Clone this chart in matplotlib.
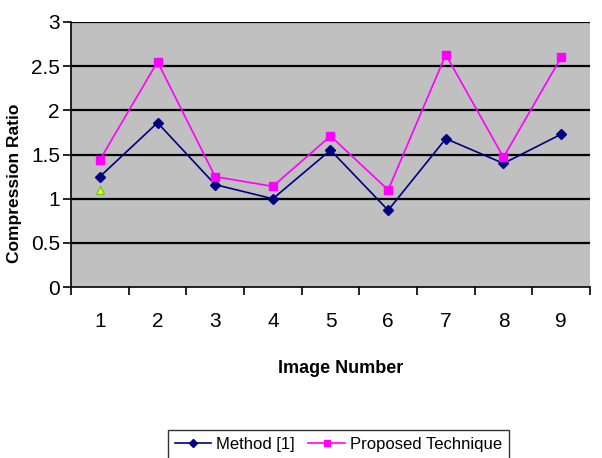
import matplotlib
matplotlib.use("Agg")
import matplotlib.pyplot as plt
import numpy as np

plt.rcParams["font.family"] = ["Liberation Sans", "DejaVu Sans"]

images = [1, 2, 3, 4, 5, 6, 7, 8, 9]
method_1 = [1.25, 1.86, 1.16, 1.00, 1.55, 0.87, 1.68, 1.40, 1.73]
proposed = [1.44, 2.55, 1.25, 1.14, 1.71, 1.10, 2.63, 1.47, 2.60]
stray_x = [1]
stray_y = [1.10]
y_ticks = [0, 0.5, 1, 1.5, 2, 2.5, 3]
y_labels = ["0", "0.5", "1", "1.5", "2", "2.5", "3"]

fig = plt.figure(figsize=(6.02, 4.58), dpi=100)
ax = fig.add_axes([0.118, 0.373, 0.862, 0.579])
ax.set_facecolor("#c0c0c0")

pos = np.arange(len(images))
ax.plot(pos, method_1, color="#000080", lw=1.2, marker="D", ms=5,
        mec="#000080", mfc="#000080", zorder=3, label="Method [1]")
ax.plot(pos, proposed, color="#ff00ff", lw=1.2, marker="s", ms=5.5,
        mec="#ff00ff", mfc="#ff00ff", zorder=3, label="Proposed Technique")
ax.plot(stray_x[0] - 1, stray_y[0], marker="^", ms=6, mfc="#ffff00",
        mec="#66cc33", ls="none", zorder=2)

ax.set_xlim(-0.5, len(images) - 0.5)
ax.set_ylim(0, 3)
ax.set_yticks(y_ticks)
ax.set_yticklabels(y_labels, fontsize=15)
for y in y_ticks[1:]:
    ax.axhline(y, color="black", lw=1.6, zorder=1)

# category boundaries carry the ticks, names sit between them
ax.set_xticks(np.arange(len(images) + 1) - 0.5)
ax.set_xticklabels([])
ax.set_xticks(pos, minor=True)
ax.set_xticklabels([str(i) for i in images], minor=True, fontsize=15)
ax.tick_params(axis="x", which="minor", length=0, pad=18)
ax.tick_params(axis="x", which="major", length=6, width=1.2, direction="out")
ax.tick_params(axis="y", length=6, width=1.2, direction="out", pad=2)

for s in ("top", "right"):
    ax.spines[s].set_visible(False)
for s in ("left", "bottom"):
    ax.spines[s].set_linewidth(1.2)

ax.set_ylabel("Compression Ratio", fontsize=12.5, fontweight="bold")
ax.yaxis.set_label_coords(-0.094, 0.39)
fig.text(0.565, 0.196, "Image Number", fontsize=13, fontweight="bold",
         ha="center", va="center")

leg = fig.legend(loc="lower center", bbox_to_anchor=(0.562, -0.02), ncol=2,
                 frameon=True, fancybox=False, edgecolor="black",
                 handlelength=2.2, columnspacing=0.8, handletextpad=0.3,
                 prop={"size": 12})
leg.get_frame().set_linewidth(1.0)
for line in leg.get_lines():
    line.set_markersize(4)

fig.savefig("out.png", dpi=100)
